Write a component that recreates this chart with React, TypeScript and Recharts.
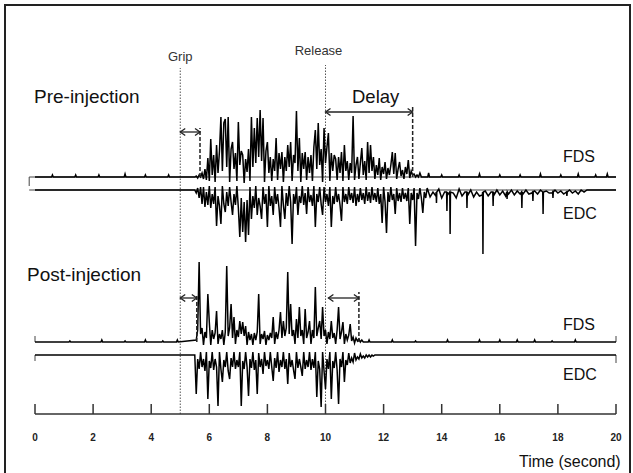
import React from "react";
import { LineChart, Line, XAxis, YAxis, ReferenceLine, Label } from "recharts";

const xTicks = [0, 2, 4, 6, 8, 10, 12, 14, 16, 18, 20];

// event times (s)
const gripTime = 5;
const releaseTime = 10;
const preOnset = 5.68;
const preOffset = 13.0;
const postOnset = 5.57;
const postOffset = 11.15;

// FDS pre-injection, samples every 0.05 s from 5.50 s (amplitude, upward)
const fdsPre = [
  0, 1, -1, 2, 0, 4, -2, 8, -3, 19, -4, 38, 2, 22, -5, 32, 4, 26, 60, 6,
  54, 58, 10, 60, -5, 28, 35, 8, 24, -4, 55, 12, 26, 22, -6, 18, 5, 28, -4, 60,
  10, 49, 14, 59, 20, 67, 16, 59, -5, 26, 35, 4, 20, -4, 18, 6, 39, -3, 24, 8,
  25, -5, 20, 6, 32, 10, 35, -4, 22, 14, 66, 6, 39, -5, 24, 8, 25, -3, 20, 4,
  22, -4, 30, 47, 8, 54, 12, 28, -5, 49, 14, 30, 44, -4, 24, 6, 22, 18, -3, 20,
  4, 25, -4, 32, 6, 16, -3, 14, 4, 61, -3, 12, 20, -2, 14, 29, 2, 16, -3, 35,
  4, 32, 6, 20, -2, 12, 2, 19, -3, 10, 3, 15, -2, 9, 2, 12, 25, 3, 24, -2,
  8, 15, 1, 7, -2, 10, 3, 17, -1, 6, 2, 3, 0, 2, 0, 4, 0,
];
const fdsPreBlips = [
  [0.6, 2], [1.4, 2], [2.2, 2], [3.1, 3], [3.8, 2], [4.6, 2],
  [13.55, 4], [14.0, 2], [14.6, 2], [15.3, 3], [16.0, 2], [16.7, 2],
  [17.4, 3], [18.1, 2], [18.7, 3], [19.3, 2], [19.7, 3],
];

// EDC pre-injection, 0.05 s from 5.50 s (amplitude, downward)
const edcPre = [
  0, 3, -2, 8, -3, 14, -3, 17, 2, 15, -4, 18, 4, 14, -3, 36, 6, 16, 34, -4,
  14, 22, 2, 16, -3, 12, 25, 4, 15, -4, 18, 47, 8, 42, 12, 52, 10, 45, -3, 29,
  6, 18, -4, 25, 8, 16, 29, -3, 14, 4, 37, -4, 16, 6, 25, -3, 14, 4, 18, 37,
  -4, 15, 29, 3, 16, -4, 12, 54, 4, 14, -3, 25, 6, 13, -4, 15, 3, 24, -3, 12,
  5, 16, -4, 37, 4, 12, -3, 14, 25, -3, 12, 4, 16, -3, 37, 6, 14, -3, 12, 4,
  15, 31, -3, 12, 4, 14, -3, 10, 3, 13, -3, 16, 4, 12, -2, 10, 3, 14, -3, 11,
  2, 13, -3, 10, 3, 12, -2, 14, 4, 33, -3, 12, 43, 2, 12, -3, 10, 4, 24, -2,
  11, 3, 12, -2, 9, 3, 11, -2, 34, 3, 10, -2, 56, 3, 9, -2, 8, 23, 2, 8,
];
// EDC pre-injection tail, 0.1 s from 13.5 s, plus the isolated spikes in it
const edcPreTail = [
  -2, 7, 2, 6, -1, 8, 2, 5, 6, 3, 8, -1, 6, 2, 5, 0, 7, 2, 6, 5,
  1, 6, 2, 5, 0, 5, 1, 6, 4, 0, 5, 1, 4, 4, 0, 4, 3, 1, 4, 0,
  4, 1, 3, 3, 0, 3, 1, 4, 3, 0, 3, 1, 4, 0, 2, 0,
];
const edcPreTailSpikes = [
  [13.82, 13], [14.18, 21], [14.29, 44], [14.87, 18], [15.42, 64], [15.77, 16],
  [16.25, 9], [16.76, 18], [17.14, 11], [17.49, 24], [17.83, 8], [18.31, 6],
];

// FDS post-injection, 0.05 s from 5.55 s
const fdsPost = [
  2, 12, 80, 8, 14, -3, 10, 4, 48, 20, -3, 12, 3, 9, 31, -2, 8, 3, 12, -3,
  10, 76, 6, 14, 38, 4, 25, -2, 12, 5, 21, 8, 20, 6, 16, -3, 10, 2, 8, -3,
  9, 2, 10, 48, -2, 8, 3, 11, -3, 7, 2, 9, 4, 25, -2, 10, 3, 12, 30, 4,
  21, 6, 14, 70, 8, 38, 6, 12, -2, 23, 4, 35, 6, 12, -2, 33, 4, 10, 21, -2,
  12, 4, 55, 6, 14, 21, 3, 35, 6, 12, -2, 10, 3, 21, 4, 9, -2, 12, 35, 3,
  10, 20, -2, 8, 2, 7, 18, 1, 5, -1, 4, 1, 3, 0, 2, 0,
];
const fdsPostBlips = [
  [1.2, 1], [2.3, 2], [3.1, 1], [3.8, 2], [4.4, 1], [4.9, 2],
  [11.5, 2], [12.3, 2], [13.1, 1], [14.2, 2], [15.3, 2], [16.0, 2],
  [16.6, 2], [17.2, 2], [17.8, 1], [18.6, 2],
];

// EDC post-injection, 0.05 s from 5.50 s
const edcPost = [
  0, 39, 4, 14, -3, 12, 4, 16, -3, 44, 6, 13, -3, 15, 4, 12, 51, -3, 14, 27,
  5, 12, -3, 16, 24, 3, 12, -3, 14, 5, 12, -3, 51, 6, 14, -3, 12, 41, 4, 13,
  -3, 15, 5, 39, -2, 12, 4, 19, -3, 11, 5, 14, -3, 12, 26, 3, 13, -3, 17, 5,
  12, -3, 14, 4, 29, -2, 12, 5, 15, 24, -3, 13, 4, 12, 21, -3, 14, 5, 12, -3,
  15, 4, 13, -3, 42, 6, 14, 52, -3, 16, 34, 4, 14, -3, 44, 6, 13, -3, 15, 49,
  4, 12, -3, 27, 5, 10, -2, 8, 3, 7, -2, 5, 2, 4, -1, 3, 1, 3, 0, 2,
  0, 2, 0, 1, 0,
];

// vertical position (in chart units above the axis) of each trace baseline
const BASE = { fdsPre: 237, edcPre: 224, fdsPost: 72, edcPost: 59 };

type Pt = { t: number; v: number };

function buildTrace(
  base: number,
  dir: number,
  segs: { start: number; step: number; vals: number[] }[],
  blips: number[][] = [],
  spikes: number[][] = []
): Pt[] {
  const pts: Pt[] = [
    { t: 0, v: base },
    { t: 20, v: base },
  ];
  segs.forEach((s) =>
    s.vals.forEach((a, i) =>
      pts.push({ t: +(s.start + i * s.step).toFixed(3), v: base + dir * a })
    )
  );
  blips.forEach(([t, a]) => {
    pts.push({ t: t - 0.03, v: base }, { t, v: base + dir * a }, { t: t + 0.03, v: base });
  });
  spikes.forEach(([t, a]) => {
    pts.push({ t: t - 0.012, v: base + dir * 2 }, { t, v: base + dir * a }, { t: t + 0.012, v: base + dir * 2 });
  });
  return pts.sort((p, q) => p.t - q.t);
}

const fdsPreData = buildTrace(BASE.fdsPre, 1, [{ start: 5.5, step: 0.05, vals: fdsPre }], fdsPreBlips);
const edcPreData = buildTrace(
  BASE.edcPre,
  -1,
  [
    { start: 5.5, step: 0.05, vals: edcPre },
    { start: 13.5, step: 0.1, vals: edcPreTail },
  ],
  [],
  edcPreTailSpikes
);
const fdsPostData = buildTrace(BASE.fdsPost, 1, [{ start: 5.55, step: 0.05, vals: fdsPost }], fdsPostBlips);
const edcPostData = buildTrace(BASE.edcPost, -1, [{ start: 5.5, step: 0.05, vals: edcPost }]);

const INK = "#000";
const FONT = "'Liberation Sans', Arial, sans-serif";

const DoubleArrow = (p: any) => {
  const { x1, y1, x2, y2 } = p;
  const h = 5;
  return (
    <g stroke="#222" strokeWidth={1.3} fill="none">
      <line x1={x1} y1={y1} x2={x2} y2={y2} />
      <polyline points={`${x1 + h},${y1 - h * 0.7} ${x1},${y1} ${x1 + h},${y1 + h * 0.7}`} />
      <polyline points={`${x2 - h},${y2 - h * 0.7} ${x2},${y2} ${x2 - h},${y2 + h * 0.7}`} />
    </g>
  );
};

const AxisTick = (p: any) => {
  const { x, y, payload } = p;
  return (
    <g>
      <line x1={x} x2={x} y1={y} y2={y - 10} stroke="#333" strokeWidth={1.5} />
      <text x={x} y={y + 27} textAnchor="middle" fontSize={10} fontWeight="bold" fill="#222" fontFamily={FONT}>
        {payload.value}
      </text>
    </g>
  );
};

const txt = (s: string, left: number, top: number, size: number) => (
  <div
    style={{
      position: "absolute",
      left,
      top,
      fontSize: size,
      lineHeight: 1,
      fontFamily: FONT,
      color: "#111",
      whiteSpace: "nowrap",
    }}
  >
    {s}
  </div>
);

export default function App() {
  const seg = (x1: number, y1: number, x2: number, y2: number) => [
    { x: x1, y: y1 },
    { x: x2, y: y2 },
  ];
  const dashed = { stroke: "#222", strokeWidth: 1.5, strokeDasharray: "4 2" };
  const thin = { stroke: "#444", strokeWidth: 1 };
  const traceStyle = { type: "linear" as const, dot: false, stroke: INK, strokeWidth: 1.5, isAnimationActive: false };

  return (
    <div style={{ position: "absolute", left: 0, top: 0, width: 633, height: 473, background: "#fff", overflow: "hidden" }}>
      <div
        style={{
          position: "absolute",
          left: 4,
          top: 4,
          width: 627,
          height: 480,
          border: "2px solid #222",
          boxSizing: "border-box",
        }}
      />
      <LineChart
        width={633}
        height={473}
        margin={{ top: 40, right: 17, bottom: 29, left: 35 }}
        style={{ position: "absolute", left: 0, top: 0 }}
      >
        <XAxis
          type="number"
          dataKey="t"
          domain={[0, 20]}
          ticks={xTicks}
          allowDataOverflow
          height={30}
          tickLine={false}
          tickSize={0}
          tickMargin={0}
          axisLine={{ stroke: "#333", strokeWidth: 1.5 }}
          tick={<AxisTick />}
        />
        <YAxis hide type="number" dataKey="v" domain={[0, 374]} allowDataOverflow />

        {/* grip / release markers */}
        <ReferenceLine segment={seg(gripTime, 0, gripTime, 346)} stroke="#555" strokeDasharray="1.5 1.5">
          <Label value="Grip" position="top" offset={7} fontSize={13} fill="#333" fontFamily={FONT} />
        </ReferenceLine>
        <ReferenceLine segment={seg(releaseTime, 0, releaseTime, 349)} stroke="#555" strokeDasharray="1.5 1.5">
          <Label value="Release" position="top" offset={10} dx={-7} fontSize={13} fill="#333" fontFamily={FONT} />
        </ReferenceLine>

        {/* calibration brackets and baselines */}
        <ReferenceLine segment={seg(-0.2, BASE.fdsPre, 20, BASE.fdsPre)} ifOverflow="visible" {...thin} />
        <ReferenceLine segment={seg(-0.2, BASE.fdsPre, -0.2, BASE.fdsPre - 9)} ifOverflow="visible" {...thin} />
        <ReferenceLine segment={seg(-0.2, BASE.edcPre, 20, BASE.edcPre)} ifOverflow="visible" {...thin} />
        <ReferenceLine segment={seg(0, BASE.fdsPost, 0, BASE.fdsPost + 6)} ifOverflow="visible" {...thin} />
        <ReferenceLine segment={seg(20, BASE.fdsPost, 20, BASE.fdsPost + 6)} ifOverflow="visible" {...thin} />
        <ReferenceLine segment={seg(0, BASE.edcPost, 0, BASE.edcPost - 6)} ifOverflow="visible" {...thin} />
        <ReferenceLine segment={seg(20, BASE.edcPost, 20, BASE.edcPost - 8)} ifOverflow="visible" {...thin} />

        <Line data={fdsPreData} dataKey="v" {...traceStyle} />
        <Line data={edcPreData} dataKey="v" {...traceStyle} />
        <Line data={fdsPostData} dataKey="v" {...traceStyle} />
        <Line data={edcPostData} dataKey="v" {...traceStyle} />

        {/* onset / offset dashed markers */}
        <ReferenceLine segment={seg(preOnset, BASE.fdsPre, preOnset, 286)} {...dashed} />
        <ReferenceLine segment={seg(preOffset, BASE.fdsPre, preOffset, 307)} {...dashed} />
        <ReferenceLine segment={seg(postOnset, BASE.fdsPost, postOnset, 120)} {...dashed} />
        <ReferenceLine segment={seg(postOffset, BASE.fdsPost, postOffset, 122)} {...dashed} />

        {/* arrows */}
        <ReferenceLine segment={seg(gripTime, 282, preOnset, 282)} shape={DoubleArrow} />
        <ReferenceLine segment={seg(releaseTime, 302, preOffset, 302)} shape={DoubleArrow} />
        <ReferenceLine segment={seg(gripTime, 116, postOnset, 116)} shape={DoubleArrow} />
        <ReferenceLine segment={seg(releaseTime + 0.1, 116, postOffset, 116)} shape={DoubleArrow} />
      </LineChart>

      {txt("Pre-injection", 34, 87, 19)}
      {txt("Delay", 352, 88, 18.5)}
      {txt("FDS", 563, 149, 16)}
      {txt("EDC", 563, 206, 16)}
      {txt("Post-injection", 27, 265, 19)}
      {txt("FDS", 563, 317, 16)}
      {txt("EDC", 563, 367, 16)}
      {txt("Time (second)", 519, 454, 16)}
    </div>
  );
}
